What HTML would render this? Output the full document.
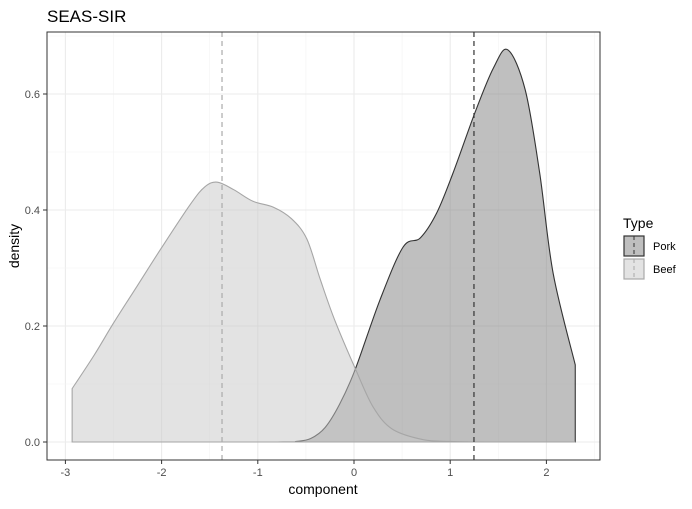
<!DOCTYPE html>
<html><head><meta charset="utf-8"><style>
body{margin:0;background:#fff;}
text{font-family:"Liberation Sans",sans-serif;}
</style></head><body>
<svg id="chart" width="692" height="504" viewBox="0 0 692 504" xmlns="http://www.w3.org/2000/svg">
<text x="47" y="22" font-size="17" fill="#000">SEAS-SIR</text>
<g id="grid"></g>
<g id="marks"></g>
<rect x="47" y="32" width="553" height="428" fill="none" stroke="#333" stroke-width="1"/>
<g id="axes"></g>
<text x="323" y="494" font-size="14" text-anchor="middle">component</text>
<text transform="translate(19,246) rotate(-90)" font-size="14" text-anchor="middle">density</text>
<g>
<text x="623" y="228" font-size="14">Type</text>
<g>
<rect x="624" y="236" width="20" height="20" fill="#bfbfbf" stroke="#333" stroke-width="1.2"/>
<line x1="634" y1="236" x2="634" y2="256" stroke="#333" stroke-dasharray="4,3"/>
<text x="653" y="250" font-size="11">Pork</text></g>
<g>
<rect x="624" y="259" width="20" height="20" fill="#e3e3e3" stroke="#aaa" stroke-width="1.2"/>
<line x1="634" y1="259" x2="634" y2="279" stroke="#aaa" stroke-dasharray="4,3"/>
<text x="653" y="273" font-size="11">Beef</text></g>
</g>
</svg>
<script>
const beefX=[-2.93,-2.7,-2.5,-2.25,-2.0,-1.7,-1.55,-1.42,-1.25,-1.05,-0.84,-0.65,-0.49,-0.35,-0.2,0.02,0.2,0.4,0.72,1.0,1.4,2.3];
const beefY=[0.092,0.15,0.205,0.27,0.335,0.41,0.44,0.448,0.435,0.415,0.405,0.385,0.35,0.28,0.21,0.124,0.06,0.022,0.004,0.001,0,0];
const porkX=[-2.93,-0.8,-0.6,-0.45,-0.3,-0.15,0.01,0.27,0.51,0.69,0.86,1.03,1.26,1.45,1.6,1.78,1.93,2.07,2.3];
const porkY=[0,0,0.001,0.006,0.025,0.065,0.124,0.245,0.336,0.352,0.395,0.464,0.569,0.645,0.676,0.607,0.464,0.291,0.133];
const vlines=[1.247,-1.372];
const xTicks=[-3,-2,-1,0,1,2];
const yTicks=[0,0.2,0.4,0.6];
const yTickLabels=["0.0","0.2","0.4","0.6"];
const NS="http://www.w3.org/2000/svg";
const sx=v=>354+96.2*v, sy=v=>442-580*v;
function mk(tag,attrs,parent){const e=document.createElementNS(NS,tag);for(const k in attrs)e.setAttribute(k,attrs[k]);parent.appendChild(e);return e;}
const grid=document.getElementById('grid'),marks=document.getElementById('marks'),axes=document.getElementById('axes');
for(let i=0;i<xTicks.length;i++){
 const x=sx(xTicks[i]);
 const g=mk('line',{x1:x,x2:x,y1:32,y2:460,stroke:'#ebebeb','stroke-width':1.1},grid);
 
 
 const m=sx(xTicks[i]+0.5);mk('line',{x1:m,x2:m,y1:32,y2:460,stroke:'#f3f3f3','stroke-width':0.6},grid);
 mk('line',{x1:x,x2:x,y1:460,y2:464,stroke:'#333'},axes);
 const t=mk('text',{x:x,y:476,'font-size':11,'text-anchor':'middle',fill:'#4d4d4d'},axes);
 t.textContent=xTicks[i];
 
 
}
for(let i=0;i<yTicks.length;i++){
 const y=sy(yTicks[i]);
 const g=mk('line',{x1:47,x2:600,y1:y,y2:y,stroke:'#ebebeb','stroke-width':1.1},grid);
 
 
 const m=sy(yTicks[i]+0.1);mk('line',{x1:47,x2:600,y1:m,y2:m,stroke:'#f3f3f3','stroke-width':0.6},grid);
 mk('line',{x1:43,x2:47,y1:y,y2:y,stroke:'#333'},axes);
 const t=mk('text',{x:40,y:y+4,'font-size':11,'text-anchor':'end',fill:'#4d4d4d'},axes);
 t.textContent=yTickLabels[i];
 
 
}
function curve(X,Y){
 const p=X.map((x,i)=>[sx(x),sy(Y[i])]);
 let d=`M${p[0][0]},${p[0][1]}`;
 for(let i=0;i<p.length-1;i++){
  const p0=p[i-1]||p[i],p1=p[i],p2=p[i+1],p3=p[i+2]||p2;
  const c1=[p1[0]+(p2[0]-p0[0])/6,p1[1]+(p2[1]-p0[1])/6],c2=[p2[0]-(p3[0]-p1[0])/6,p2[1]-(p3[1]-p1[1])/6];
  c1[1]=Math.min(c1[1],sy(0));c2[1]=Math.min(c2[1],sy(0));
  d+=`C${c1[0]},${c1[1]} ${c2[0]},${c2[1]} ${p2[0]},${p2[1]}`;
 }
 return d;
}
function area(X,Y,fill,stroke,name){
 const d=curve(X,Y);
 const a=mk('path',{d:`M${sx(X[0])},${sy(0)}L`+d.slice(1)+`L${sx(X[X.length-1])},${sy(0)}Z`,fill:fill,stroke:stroke,'stroke-width':1.1},marks);
 
 
}
area(porkX,porkY,'rgba(128,128,128,0.5)','#333','pork-density');
area(beefX,beefY,'rgba(200,200,200,0.5)','#a6a6a6','beef-density');
const vc=['#333','#aaa'],vn=['pork-mean-line','beef-mean-line'];
vlines.forEach((v,i)=>{const l=mk('line',{x1:sx(v),x2:sx(v),y1:32,y2:460,stroke:vc[i],'stroke-width':1.2,'stroke-dasharray':'5,4'},marks);
 
 });
</script>
</body></html>
